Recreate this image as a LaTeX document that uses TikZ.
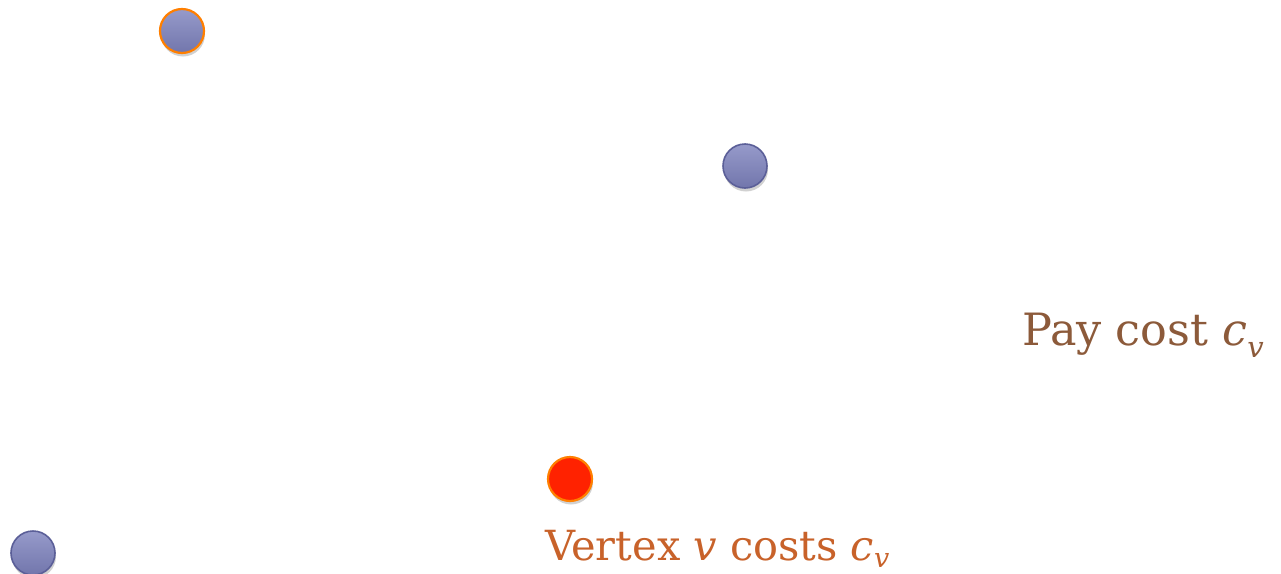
\documentclass[tikz,border=0pt]{standalone}
\usepackage{fontspec}
\setmainfont{DejaVu Serif}
\usetikzlibrary{shadows}
\definecolor{vfillA}{HTML}{969ACA}
\definecolor{vfillB}{HTML}{7276AC}
\definecolor{vblue}{HTML}{5B5F98}
\definecolor{vorange}{HTML}{FF7F00}
\definecolor{vred}{HTML}{FF2200}
\definecolor{paybrown}{HTML}{8C5A3A}
\definecolor{vtxorange}{HTML}{C8622A}
\tikzset{
  vert/.style={circle, minimum size=44pt, inner sep=0pt, line width=1.6pt,
    top color=vfillA, bottom color=vfillB, draw=vblue,
    drop shadow={shadow xshift=1pt, shadow yshift=-3.5pt, opacity=0.3, fill=black!60}},
  vertsel/.style={vert, draw=vorange, line width=2.2pt},
  vertred/.style={vert, top color=vred, bottom color=vred, fill=vred, draw=vorange, line width=2.2pt},
  lab/.style={inner sep=0pt, anchor=base west}
}
\begin{document}
\begin{tikzpicture}[x=1pt,y=-1pt]
\useasboundingbox (0,0) rectangle (1281,573);
\node[vertsel] (a) at (182,31) {};
\node[vert] (b) at (745,166) {};
\node[vertred] (r) at (570,479) {};
\node[vert] (d) at (33,553) {};
\node[lab, text=paybrown, font=\fontsize{44.5}{48}\selectfont] (pay) at (1022,345) {Pay cost \textit{c}\raisebox{-0.27em}{\fontsize{29}{32}\selectfont\textit{v}}};
\node[lab, text=vtxorange, font=\fontsize{41.5}{46}\selectfont] (vtx) at (545,560) {Vertex \textit{v} costs \textit{c}\raisebox{-0.18em}{\fontsize{27}{30}\selectfont\textit{v}}};
\end{tikzpicture}
\end{document}
